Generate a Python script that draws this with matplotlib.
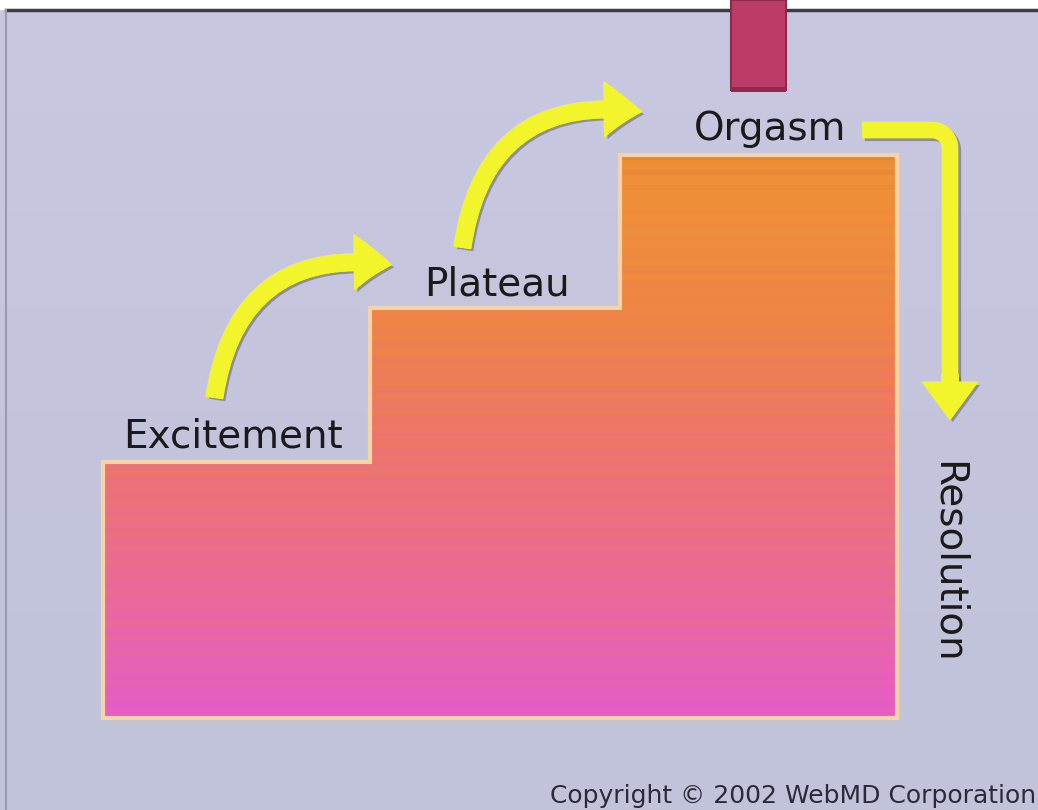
import numpy as np
import matplotlib.pyplot as plt
from matplotlib.patches import Polygon, Rectangle, FancyArrowPatch
import matplotlib.patheffects as pe
from matplotlib.colors import LinearSegmentedColormap

# stages of the response cycle (image pixel coordinates, y grows downward)
stages = ["Excitement", "Plateau", "Orgasm"]
step_left = [103, 370, 620]
step_right = [370, 620, 897]
step_top = [462, 308, 155]
floor = 718
final_stage = "Resolution"
copyright_text = "Copyright \u00a9 2002 WebMD Corporation"

W, H = 1038, 810
fig = plt.figure(figsize=(W / 100, H / 100), dpi=100)
ax = fig.add_axes([0, 0, 1, 1])
ax.set_xlim(0, W)
ax.set_ylim(H, 0)
ax.axis("off")

# background
bg = np.linspace(0, 1, 200).reshape(-1, 1)
bg_cmap = LinearSegmentedColormap.from_list("bg", ["#c8c8e0", "#c4c5dd", "#c0c3da"])
ax.imshow(bg, cmap=bg_cmap, extent=[0, W, H, 10], aspect="auto", zorder=0)
ax.add_patch(Rectangle((0, 0), W, 9, color="white", zorder=1))
ax.plot([6, W], [10, 10], color="#3c3c44", lw=2.5, zorder=2)
ax.plot([6, 6], [10, H], color="#9a9aae", lw=1.5, zorder=2)

# staircase outline
verts = [(step_left[0], floor)]
for l, r, t in zip(step_left, step_right, step_top):
    verts += [(l, t), (r, t)]
verts += [(step_right[-1], floor)]
stair = Polygon(verts, closed=True, facecolor="none", edgecolor="#f7d3a6", lw=3, zorder=4)
ax.add_patch(stair)

# gradient fill with horizontal stripes
ys = np.arange(step_top[-1], floor)
grad = (ys - ys[0]) / (ys[-1] - ys[0])
stripe = ((ys - ys[0]) % 15) < 5
vals = grad - 0.06 * stripe
img = np.tile(vals.reshape(-1, 1), (1, 10))
fill_cmap = LinearSegmentedColormap.from_list(
    "fill", ["#d87a30", "#f09038", "#ee8446", "#ec7470", "#e96a98", "#e45cc8"])
im = ax.imshow(img, cmap=fill_cmap, vmin=-0.2, vmax=1.0,
               extent=[step_left[0], step_right[-1], floor, step_top[-1]],
               aspect="auto", zorder=3, interpolation="nearest")
clip = Polygon(verts, closed=True, transform=ax.transData)
im.set_clip_path(clip)

# red bar at the top
ax.add_patch(Rectangle((731, 0), 55, 90, facecolor="#bb3c66", edgecolor="#8e2a4c", lw=1.5, zorder=5))
ax.add_patch(Rectangle((731, 87), 55, 5, facecolor="#8e2a4c", zorder=5))

# labels
fs = 28
ax.text(233, 437, stages[0], fontsize=fs, ha="center", va="center", color="#1a1a1a", zorder=6)
ax.text(497, 284, stages[1], fontsize=fs, ha="center", va="center", color="#1a1a1a", zorder=6)
ax.text(770, 129, stages[2], fontsize=fs, ha="center", va="center", color="#1a1a1a", zorder=6)
ax.text(948, 562, final_stage, fontsize=fs, ha="center", va="center", rotation=-90,
        color="#1a1a1a", zorder=6)
ax.text(1036, 796, copyright_text, fontsize=18, ha="right", va="center",
        color="#2a2a3a", zorder=6)

# yellow arrows
shadow = [pe.withSimplePatchShadow(offset=(2, -2), shadow_rgbFace="#555566", alpha=0.5), pe.Normal()]
line_shadow = [pe.SimpleLineShadow(offset=(2, -2), shadow_color="#555566", alpha=0.5), pe.Normal()]
yellow = "#f2f52c"
arrow_kw = dict(arrowstyle="simple,head_width=2.8,head_length=1.9,tail_width=0.85",
                color=yellow, mutation_scale=14, zorder=7)
a1 = FancyArrowPatch((214, 400), (394, 265), connectionstyle="arc3,rad=-0.5", **arrow_kw)
a2 = FancyArrowPatch((462, 250), (644, 112), connectionstyle="arc3,rad=-0.5", **arrow_kw)
for a in (a1, a2):
    a.set_path_effects(shadow)
    ax.add_patch(a)

# corner arrow down to resolution
t = np.linspace(0, np.pi / 2, 20)
r = 18
cx, cy = 950 - r, 130 + r
corner_x = np.concatenate([[862], cx + r * np.sin(t), [950]])
corner_y = np.concatenate([[130], cy - r * np.cos(t), [385]])
ax.plot(corner_x, corner_y, color=yellow, lw=12, solid_capstyle="butt",
        solid_joinstyle="round", zorder=7, path_effects=line_shadow)
a3 = FancyArrowPatch((950, 372), (950, 422), **arrow_kw)
a3.set_path_effects(shadow)
ax.add_patch(a3)

fig.savefig("out.png", dpi=100)
